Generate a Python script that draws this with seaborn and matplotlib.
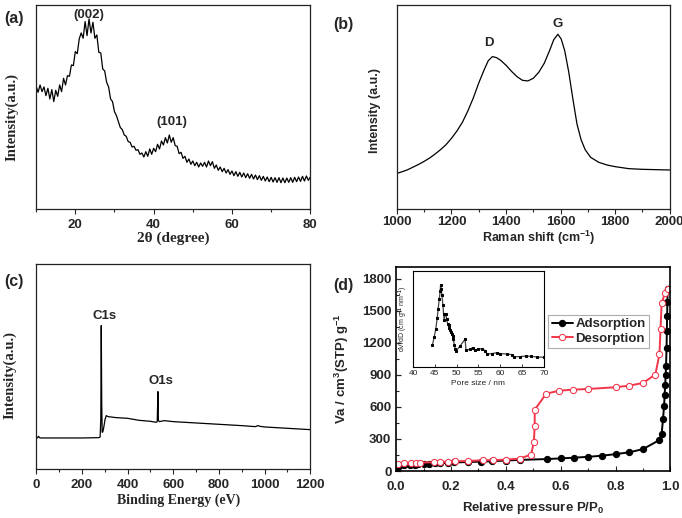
"""
Four-panel characterisation figure: XRD, Raman, XPS survey and N2 isotherm
"""

import numpy as np
import pandas as pd
import matplotlib
matplotlib.use('Agg')
import matplotlib.pyplot as plt
from matplotlib.ticker import MultipleLocator
import seaborn as sns

# (a) XRD, 2theta 10..80 in 0.5 degree steps
xrd_intensity = [
    368, 350, 372, 352, 366, 340, 362, 330, 358, 322,
    356, 338, 372, 352, 392, 372, 400, 398, 432, 430,
    472, 466, 510, 528, 512, 562, 520, 570, 528, 560,
    512, 522, 470, 468, 420, 414, 380, 366, 330, 322,
    292, 280, 262, 244, 238, 222, 218, 202, 200, 186,
    188, 176, 178, 164, 168, 156, 172, 158, 180, 164,
    182, 172, 194, 180, 204, 192, 214, 198, 222, 200,
    214, 190, 188, 166, 170, 152, 158, 140, 150, 134,
    144, 130, 140, 126, 138, 128, 140, 126, 144, 130,
    142, 122, 132, 116, 126, 112, 122, 108, 118, 104,
    114, 100, 112, 98, 110, 96, 108, 94, 106, 92,
    104, 90, 102, 88, 100, 86, 98, 84, 96, 82,
    95, 81, 94, 80, 94, 79, 93, 79, 93, 80,
    94, 80, 95, 82, 96, 83, 98, 84, 99, 86,
    96,
]
two_theta = np.linspace(10, 80, len(xrd_intensity))

# (b) Raman
raman_shift = [1000, 1020, 1040, 1060, 1080, 1100, 1120, 1140, 1160, 1180,
               1200, 1220, 1240, 1260, 1280, 1300, 1320, 1335, 1350, 1365,
               1380, 1400, 1420, 1440, 1460, 1480, 1500, 1520, 1540, 1560,
               1575, 1590, 1602, 1615, 1630, 1645, 1660, 1675, 1690, 1710,
               1740, 1770, 1800, 1850, 1900, 1950, 2000]
raman_int = [107, 112, 118, 126, 134, 143, 153, 165, 178, 193,
             212, 234, 260, 294, 333, 378, 418, 445, 457, 454,
             446, 431, 413, 397, 386, 384, 392, 410, 437, 476,
             508, 524, 510, 475, 410, 330, 255, 208, 178, 155,
             140, 132, 127, 121, 119, 118, 117]

# (c) XPS survey
binding_energy = [0, 5, 10, 15, 20, 100, 200, 275, 280, 283, 285, 287, 289,
                  292, 296, 302, 307, 315, 350, 400, 450, 500, 525, 530, 533,
                  535, 540, 560, 600, 700, 800, 900, 960, 970, 980, 1000,
                  1100, 1200]
xps_int = [93, 93, 98, 94, 93, 93, 93, 94, 96, 150, 430, 200, 110,
           112, 125, 150, 160, 157, 154, 152, 146, 143, 140, 142, 232,
           145, 142, 145, 142, 138, 134, 130, 127, 130, 128, 126,
           122, 118]

# (d) N2 isotherm
ads_p = [0.003, 0.01, 0.03, 0.05, 0.07, 0.08, 0.10, 0.12, 0.14, 0.16, 0.19,
         0.21, 0.26, 0.31, 0.35, 0.40, 0.45, 0.55, 0.60, 0.65, 0.70, 0.75,
         0.80, 0.85, 0.90, 0.96, 0.968, 0.973, 0.977, 0.979, 0.981, 0.983,
         0.984, 0.986, 0.987, 0.988, 0.989, 0.990, 0.991]
ads_v = [20, 45, 52, 57, 60, 62, 66, 68, 71, 73, 77, 80, 84, 88, 92, 98,
         104, 112, 118, 125, 133, 143, 158, 175, 205, 290, 346, 485, 610,
         714, 809, 903, 982, 1155, 1312, 1447, 1580, 1705, 1705]
des_p = [0.008, 0.03, 0.055, 0.073, 0.085, 0.137, 0.158, 0.188, 0.213, 0.261,
         0.316, 0.352, 0.40, 0.45, 0.492, 0.502, 0.505, 0.505, 0.547, 0.595,
         0.644, 0.70, 0.80, 0.85, 0.90, 0.945, 0.96, 0.964, 0.968, 0.98,
         0.991]
des_v = [63, 72, 76, 79, 79, 82, 85, 88, 91, 94, 101, 101, 107, 116, 154,
         274, 422, 573, 724, 752, 761, 768, 784, 799, 824, 903, 1092, 1328,
         1570, 1665, 1705]

# (d) inset: pore size distribution
pore_size = [44.46, 44.85, 45.23, 45.54, 45.77, 46.0, 46.23, 46.31, 46.46,
             46.62, 46.85, 47.0, 47.15, 47.31, 47.54, 47.69, 47.92, 48.15,
             48.31, 48.46, 48.62, 48.85, 49.08, 49.23, 49.46, 49.69, 49.85,
             50.77, 51.92, 52.15, 53.08, 53.69, 54.23, 55.0, 55.77, 56.54,
             56.92, 58.08, 59.23, 60.0, 61.54, 62.69, 63.08, 64.62, 65.77,
             66.92, 68.46, 70.0]
dv_dd = [67, 90, 115, 147, 175, 203, 227, 245, 235, 215, 185, 160, 140, 160,
         158, 145, 130, 125, 117, 110, 105, 100, 93, 85, 67, 53, 48, 63, 83,
         50, 53, 58, 50, 55, 54, 49, 39, 40, 43, 40, 39, 37, 31, 31, 33, 32,
         30, 29]

SANS = 'Liberation Sans'
SERIF = 'Liberation Serif'

sns.set_style('ticks')
plt.rcParams['font.family'] = [SANS, 'DejaVu Sans']
plt.rcParams['mathtext.fontset'] = 'custom'
plt.rcParams['mathtext.rm'] = 'Liberation Sans:bold'
plt.rcParams['mathtext.it'] = 'Liberation Sans:bold'
plt.rcParams['mathtext.bf'] = 'Liberation Sans:bold'

fig = plt.figure(figsize=(6.82, 5.18), dpi=100)
ax_a = fig.add_axes([0.053, 0.5965, 0.402, 0.394])
ax_b = fig.add_axes([0.582, 0.5965, 0.400, 0.394])
ax_c = fig.add_axes([0.053, 0.0946, 0.402, 0.396])
ax_d = fig.add_axes([0.581, 0.0907, 0.402, 0.394])


def style_axes(ax, direction='out', pad=3.5):
    for sp in ax.spines.values():
        sp.set_visible(True)
        sp.set_linewidth(0.9)
        sp.set_color('#222222')
    ax.tick_params(axis='x', which='major', direction=direction, length=3.5,
                   width=0.8, labelsize=9.5, pad=pad)
    ax.tick_params(axis='x', which='minor', direction=direction, length=2,
                   width=0.8)
    for lab in ax.get_xticklabels() + ax.get_yticklabels():
        lab.set_fontweight('bold')


# (a) XRD
sns.lineplot(x=two_theta, y=xrd_intensity, ax=ax_a, color='black',
             linewidth=0.9, estimator=None, sort=False)
ax_a.set_xlim(10, 80)
ax_a.set_ylim(0, 612)
ax_a.set_xticks([20, 40, 60, 80])
ax_a.xaxis.set_minor_locator(MultipleLocator(10))
ax_a.set_yticks([])
style_axes(ax_a)
ax_a.set_xlabel('2θ (degree)', family=SERIF, fontweight='bold', fontsize=11)
ax_a.set_ylabel('Intensity(a.u.)', family=SERIF, fontweight='bold', fontsize=10.5)
ax_a.xaxis.set_label_coords(0.5, -0.112)
ax_a.yaxis.set_label_coords(-0.066, 0.45)
ax_a.text(23.4, 582, '(002)', ha='center', va='center', fontsize=9.5, fontweight='bold')
ax_a.text(44.7, 262, '(101)', ha='center', va='center', fontsize=9.5, fontweight='bold')

# (b) Raman
sns.lineplot(x=raman_shift, y=raman_int, ax=ax_b, color='black',
             linewidth=0.9, estimator=None, sort=False)
ax_b.set_xlim(1000, 2000)
ax_b.set_ylim(0, 612)
ax_b.set_xticks(range(1000, 2001, 200))
ax_b.xaxis.set_minor_locator(MultipleLocator(100))
ax_b.set_yticks([])
style_axes(ax_b, pad=1.5)
ax_b.set_xlabel('Raman shift (cm$^{-1}$)', fontsize=9, fontweight='bold')
ax_b.set_ylabel('Intensity (a.u.)', fontsize=9, fontweight='bold')
ax_b.xaxis.set_label_coords(0.52, -0.095)
ax_b.yaxis.set_label_coords(-0.059, 0.485)
ax_b.text(1338, 497, 'D', ha='center', va='center', fontsize=9.5, fontweight='bold')
ax_b.text(1590, 555, 'G', ha='center', va='center', fontsize=9.5, fontweight='bold')

# (c) XPS
sns.lineplot(x=binding_energy, y=xps_int, ax=ax_c, color='black',
             linewidth=0.9, estimator=None, sort=False)
ax_c.set_xlim(0, 1200)
ax_c.set_ylim(0, 615)
ax_c.set_xticks(range(0, 1201, 200))
ax_c.xaxis.set_minor_locator(MultipleLocator(100))
ax_c.set_yticks([])
style_axes(ax_c)
ax_c.set_xlabel('Binding Energy (eV)', family=SERIF, fontweight='bold', fontsize=10)
ax_c.set_ylabel('Intensity(a.u.)', family=SERIF, fontweight='bold', fontsize=10.5)
ax_c.xaxis.set_label_coords(0.52, -0.12)
ax_c.yaxis.set_label_coords(-0.07, 0.46)
ax_c.text(298, 460, 'C1s', ha='center', va='center', fontsize=9.5, fontweight='bold')
ax_c.text(547, 265, 'O1s', ha='center', va='center', fontsize=9.5, fontweight='bold')

# (d) isotherm
red = '#f2354a'
sns.lineplot(x=ads_p, y=ads_v, ax=ax_d, color='black', linewidth=1.4,
             marker='o', markersize=4.5, markeredgecolor='black',
             estimator=None, sort=False, label='Adsorption')
sns.lineplot(x=des_p, y=des_v, ax=ax_d, color=red, linewidth=1.4,
             marker='o', markersize=4.5, markerfacecolor='white',
             markeredgecolor=red, estimator=None, sort=False, label='Desorption')
ax_d.set_xlim(0, 1.0)
ax_d.set_ylim(0, 1910)
ax_d.set_xticks(np.arange(0, 1.01, 0.2))
ax_d.set_yticks(range(0, 1801, 300))
ax_d.xaxis.set_minor_locator(MultipleLocator(0.1))
ax_d.yaxis.set_minor_locator(MultipleLocator(150))
style_axes(ax_d, direction='in', pad=7)
for sp in ax_d.spines.values():
    sp.set_linewidth(1.2)
    sp.set_color('black')
ax_d.tick_params(axis='y', which='major', direction='in', length=3.5,
                 width=0.9, labelsize=9.5)
ax_d.tick_params(axis='y', which='minor', direction='in', length=2, width=0.8)
ax_d.set_xticklabels([f'{v:.1f}' for v in np.arange(0, 1.01, 0.2)], fontweight='bold')
ax_d.set_yticklabels([str(v) for v in range(0, 1801, 300)], fontweight='bold')
ax_d.set_xlabel('Relative pressure P/P$_0$', fontsize=9.5, fontweight='bold')
ax_d.set_ylabel('Va / cm$^3$(STP) g$^{-1}$', fontsize=9.5, fontweight='bold')
ax_d.xaxis.set_label_coords(0.5, -0.14)
ax_d.yaxis.set_label_coords(-0.165, 0.5)
leg = ax_d.legend(loc='upper left', bbox_to_anchor=(0.555, 0.765),
                  prop={'family': SANS, 'weight': 'bold', 'size': 9.5},
                  frameon=True, fancybox=False, handlelength=1.6,
                  handletextpad=0.2, borderpad=0.25, labelspacing=0.15,
                  borderaxespad=0)
leg.get_frame().set_edgecolor('#999999')
leg.get_frame().set_linewidth(0.8)

# inset
ax_in = fig.add_axes([0.6056, 0.2915, 0.192, 0.185])
sns.lineplot(x=pore_size, y=dv_dd, ax=ax_in, color='#444444', linewidth=0.9,
             marker='s', markersize=2, markeredgecolor='black',
             markerfacecolor='black', estimator=None, sort=False)
ax_in.set_xlim(40, 70)
ax_in.set_ylim(0, 287)
ax_in.set_xticks(range(40, 71, 5))
ax_in.set_yticks([])
for sp in ax_in.spines.values():
    sp.set_linewidth(0.8)
    sp.set_color('black')
ax_in.tick_params(axis='x', direction='in', length=2, width=0.6, labelsize=6, pad=2)
ax_in.set_xlabel('Pore size / nm', fontsize=6, labelpad=2)
ax_in.set_ylabel('dV/dD (cm g$^{-1}$ nm$^{-1}$)', fontsize=5, labelpad=2)

# panel letters
for txt, x, y in [('(a)', 0.006, 0.965), ('(b)', 0.488, 0.953),
                  ('(c)', 0.006, 0.457), ('(d)', 0.488, 0.448)]:
    fig.text(x, y, txt, fontsize=11.5, fontweight='bold', va='center', ha='left')

fig.savefig('out.png', dpi=100)
